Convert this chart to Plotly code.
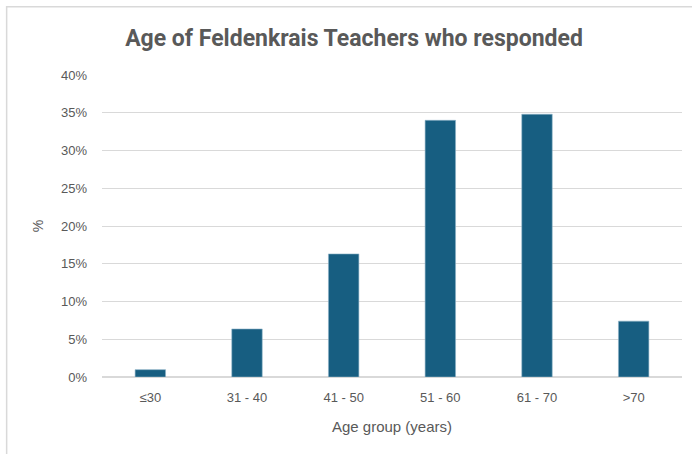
import plotly.graph_objects as go

# Age distribution of responding teachers

AGE_GROUPS = ["≤30", "31 - 40", "41 - 50", "51 - 60", "61 - 70", ">70"]
SHARES = [0.0097, 0.0636, 0.163, 0.340, 0.348, 0.074]
Y_TICKS = [0, 0.05, 0.10, 0.15, 0.20, 0.25, 0.30, 0.35, 0.40]

BAR_COLOR = "#175e81"
TEXT_COLOR = "#595959"
GRID_COLOR = "#d9d9d9"

fig = go.Figure(go.Bar(
    x=AGE_GROUPS, y=SHARES,
    marker=dict(color=BAR_COLOR, line=dict(color="#8fb3c8", width=0.6)),
    hovertemplate="%{x}: %{y:.1%}<extra></extra>",
))

fig.update_layout(
    width=692, height=454,
    plot_bgcolor="white", paper_bgcolor="white",
    margin=dict(l=101.5, r=9.5, t=75.3, b=76.5, autoexpand=False),
    bargap=0.685,
    showlegend=False,
    font=dict(family="Liberation Sans", size=13, color=TEXT_COLOR),
    title=dict(
        text="<b>Age of Feldenkrais Teachers who responded</b>",
        font=dict(family="Roboto", size=23, color=TEXT_COLOR),
        x=354 / 692, xanchor="center", xref="container",
        y=1 - 38 / 454, yanchor="middle", yref="container",
    ),
    # light frame of the chart area
    shapes=[dict(
        type="rect", xref="paper", yref="paper",
        x0=-0.1644, x1=1.2, y0=-0.4, y1=1.226,
        line=dict(color="#d9d9d9", width=1.5), fillcolor="rgba(0,0,0,0)",
        layer="below",
    )],
)

fig.update_xaxes(
    automargin=False,
    showgrid=False, showline=False, ticks="",
    ticklabelstandoff=11,
    tickfont=dict(size=13, color=TEXT_COLOR),
    title=dict(text="Age group (years)", font=dict(size=15, color=TEXT_COLOR), standoff=17),
)
fig.update_yaxes(
    automargin=False,
    range=[0, 0.40], tickvals=Y_TICKS, tickformat=".0%",
    showgrid=True, gridcolor=GRID_COLOR, gridwidth=1.2,
    zeroline=True, zerolinecolor=GRID_COLOR, zerolinewidth=1.5,
    ticklabelstandoff=14,
    tickfont=dict(size=13, color=TEXT_COLOR),
    title=dict(text="%", font=dict(size=14, color=TEXT_COLOR), standoff=14),
)

fig.write_html(
    "out.html",
    config={"displayModeBar": False},
    post_script="document.body.style.margin='0';document.body.style.overflow='hidden';",
)
